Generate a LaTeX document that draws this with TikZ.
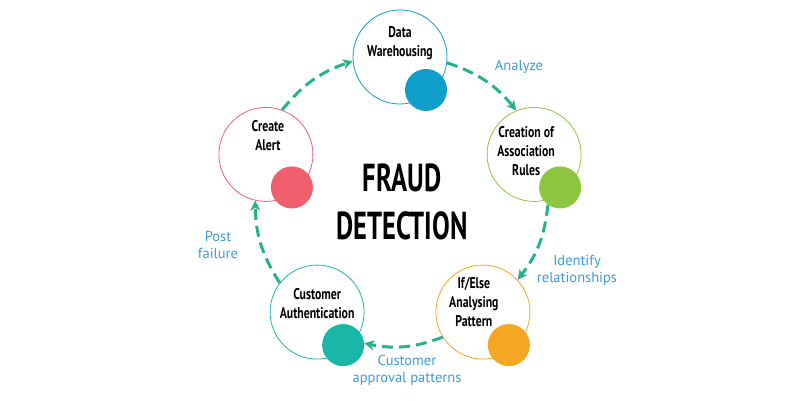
\documentclass[tikz,border=0pt]{standalone}
\usepackage{fontspec}
\setmainfont{PT Sans}
\newfontfamily\narrowfont[FakeStretch=0.76]{PT Sans}
\newfontfamily\titlefont[FakeStretch=0.68]{PT Sans}
\usepackage{xcolor}
\usetikzlibrary{arrows.meta, positioning}

\definecolor{dwblue}{RGB}{16,158,203}
\definecolor{cagreen}{RGB}{141,198,63}
\definecolor{ieorange}{RGB}{245,166,35}
\definecolor{authteal}{RGB}{26,183,168}
\definecolor{alertred}{RGB}{239,95,110}
\definecolor{flowgreen}{RGB}{40,178,140}
\definecolor{labelblue}{RGB}{62,155,214}

\begin{document}
\begin{tikzpicture}[x=1pt, y=1pt,
    stage/.style={circle, draw=#1, line width=0.8pt, minimum size=94pt,
      inner sep=0pt},
    stagedot/.style={circle, fill=#1, minimum size=42pt, inner sep=0pt},
    stagetext/.style={font=\narrowfont\bfseries\fontsize{15.5}{19}\selectfont,
      align=center},
    flow/.style={line width=3pt, flowgreen, dash pattern=on 11pt off 6pt,
      -{Stealth[length=10pt, width=10pt, inset=3pt]}, bend left=16},
    flowlabel/.style={font=\fontsize{14.5}{17}\selectfont, text=labelblue,
      align=center},
]
\useasboundingbox (0,0) rectangle (800,400);

% Stage circles
\begin{scope}[shift={(400,202)}]
\foreach \name/\ang/\col/\txt/\dx/\dy in {
  dw/90/dwblue/{Data\\Warehousing}/0/13.5,
  ca/18/cagreen/{Creation of\\Association\\Rules}/-8/3,
  ie/-54/ieorange/{If/Else\\Analysing\\Pattern}/-9/10,
  auth/-126/authteal/{Customer\\Authentication}/0/9,
  alert/162/alertred/{Create\\Alert}/2/19} {
  \node[stage=\col] (\name) at (\ang:141) {};
  \node[stagetext] (\name-text) at ([shift={(\dx,\dy)}]\name.center) {\txt};
  \node[stagedot=\col] (\name-dot) at ([shift={(26,-33)}]\name.center) {};
}
\end{scope}

% Title
\node[font=\titlefont\bfseries\fontsize{39}{48}\selectfont, align=center]
  (title) at (402,198) {FRAUD\\DETECTION};

% Flow arrows
\draw[flow] (alert.70) to (dw.185);
\draw[flow] (dw.-7) to (ca.112);
\draw[flow] (ca-dot.235) to (ie.43);
\draw[flow] (ie.212) to (auth-dot.5);
\draw[flow] (auth.142) to (alert.257);

% Flow labels
\node[flowlabel] (analyze) at (519,333) {Analyze};
\node[flowlabel] (identify) at (577,130) {Identify\\relationships};
\node[flowlabel] (approval) at (407,30) {Customer\\approval patterns};
\node[flowlabel] (postfail) at (218,155) {Post\\failure};

\end{tikzpicture}
\end{document}
